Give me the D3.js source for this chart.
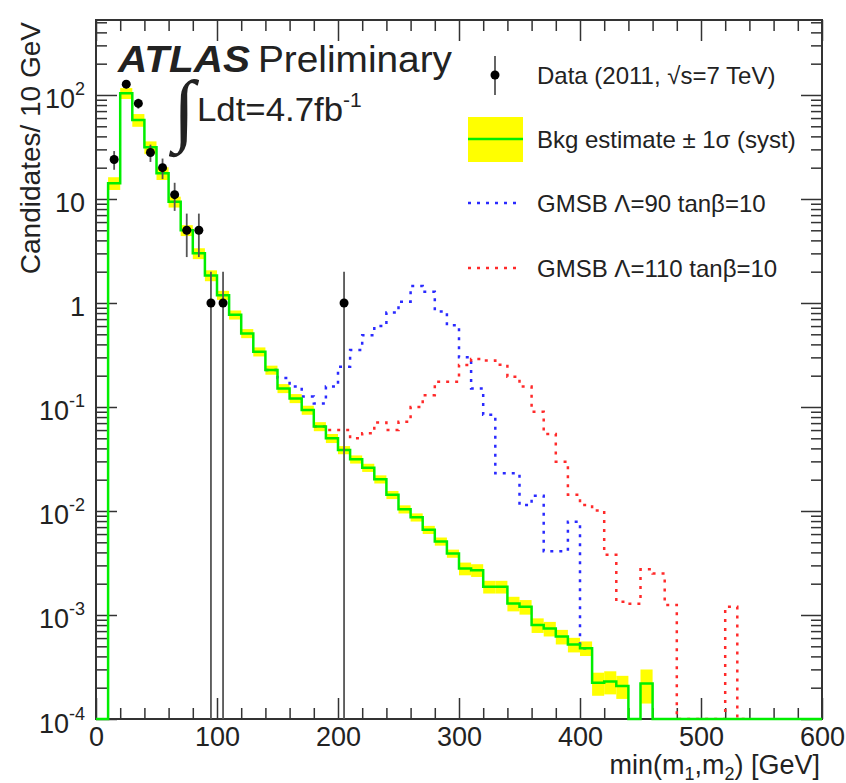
<!DOCTYPE html>
<html><head><meta charset="utf-8">
<script src="https://cdn.jsdelivr.net/npm/d3@7/dist/d3.min.js"></script>
<style>
body{margin:0;background:#fff;}
text{font-family:"Liberation Sans",Arial,Helvetica,sans-serif;fill:#222;}
</style></head><body>
<svg id="c" width="846" height="783"></svg>
<script>
// ---------------- data ----------------
const binWidth = 10;                       // GeV
const binLow = d3.range(0, 600, binWidth); // lower bin edges 0..590
// background estimate (per 10 GeV bin, 0..590)
const bkg = [
  0, 14.2, 104, 57.5, 31.4, 17.7, 9.4, 5.0, 3.0, 1.84,
  1.19, 0.77, 0.51, 0.34, 0.227, 0.151, 0.121, 0.0935, 0.065, 0.050,
  0.0386, 0.0314, 0.0261, 0.0202, 0.0143, 0.0104, 0.0087, 0.0066, 0.0051, 0.0039,
  0.0028, 0.0027, 0.00187, 0.00187, 0.00129, 0.00120, 0.00080, 0.00074, 0.00062, 0.00052,
  0.00048, 0.000223, 0.00023, 0.000208, 0, 0.00022, 0, 0, 0, 0,
  0, 0, 0, 0, 0, 0, 0, 0, 0, 0
];
// relative systematic uncertainty of background
const bkgErr = [
  0, .14, .12, .14, .14, .14, .12, .12, .12, .12,
  .10, .10, .10, .10, .10, .10, .10, .10, .10, .10,
  .09, .09, .09, .09, .09, .09, .09, .09, .09, .09,
  .14, .14, .14, .14, .16, .16, .16, .16, .16, .16,
  .16, .25, .25, .25, 0, .36, 0, 0, 0, 0,
  0, 0, 0, 0, 0, 0, 0, 0, 0, 0
];
// GMSB Lambda=90 tanb=10, bins starting at 140 GeV
const gmsb90Start = 140;
const gmsb90 = [0.227, 0.19, 0.157, 0.126, 0.108, 0.157, 0.244, 0.353, 0.49, 0.60,
  0.81, 1.03, 1.46, 1.28, 0.83, 0.61, 0.30, 0.151, 0.084, 0.023,
  0.023, 0.0114, 0.014, 0.0041, 0.0041, 0.0079, 0.00048];
// GMSB Lambda=110 tanb=10, bins starting at 180 GeV
const gmsb110Start = 180;
const gmsb110 = [0.065, 0.060, 0.060, 0.050, 0.056, 0.071, 0.060, 0.072, 0.10, 0.13,
  0.175, 0.175, 0.254, 0.29, 0.28, 0.255, 0.195, 0.157, 0.090, 0.055,
  0.0298, 0.0143, 0.0114, 0.0101, 0.0038, 0.00134, 0.00128, 0.00275, 0.0025, 0.00125,
  0, 0, 0, 0, 0.0012, 0];
// data (2011)
const dataCenters = [15, 25, 35, 45, 55, 65, 75, 85, 95, 105, 205];
const dataCounts  = [24, 127, 83, 28, 20, 11, 5, 5, 1, 1, 1];
// axis ticks
const xMajor = [0, 100, 200, 300, 400, 500, 600];
const yMajor = [1e-4, 1e-3, 1e-2, 1e-1, 1, 10, 100];
const legendLabels = ["Data (2011, \u221As=7 TeV)", "Bkg estimate \u00B1 1\u03C3 (syst)",
  "GMSB \u039B=90 tan\u03B2=10", "GMSB \u039B=110 tan\u03B2=10"];

// ---------------- layout ----------------
const L = 96, R = 822, T = 20, B = 719;
const yMax = 526;
const svg = d3.select("#c");
const x = d3.scaleLinear().domain([0, 600]).range([L, R]);
const y = d3.scaleLog().domain([1e-4, yMax]).range([B, T]);
const yv = v => y(Math.max(v, 1e-4));

svg.append("defs").append("clipPath").attr("id", "clip")
  .append("rect").attr("x", L).attr("y", T).attr("width", R - L).attr("height", B - T);

// minor tick values
const xMinor = d3.range(20, 600, 20).filter(v => v % 100 !== 0);
const yMinor = [];
for (let k = -4; k <= 2; k++) for (let m = 2; m <= 9; m++) { const v = m * Math.pow(10, k); if (v < yMax) yMinor.push(v); }

function styleAxis(g) {
  g.select(".domain").remove();
  g.selectAll(".tick line").attr("stroke", "#333").attr("stroke-width", 1.5);
}
// bottom
svg.append("g").attr("transform", `translate(0,${B})`)
  .call(d3.axisBottom(x).tickValues(xMinor).tickSize(-11).tickFormat("")).call(styleAxis);
const xAx = svg.append("g").attr("transform", `translate(0,${B})`)
  .call(d3.axisBottom(x).tickValues(xMajor).tickSize(-21).tickPadding(8).tickFormat(d3.format("d"))).call(styleAxis);
xAx.selectAll(".tick text").attr("font-size", 27).attr("fill", "#222").attr("font-family", "Liberation Sans, Arial, sans-serif");
// top
svg.append("g").attr("transform", `translate(0,${T})`)
  .call(d3.axisTop(x).tickValues(xMinor).tickSize(-11).tickFormat("")).call(styleAxis);
svg.append("g").attr("transform", `translate(0,${T})`)
  .call(d3.axisTop(x).tickValues(xMajor).tickSize(-21).tickFormat("")).call(styleAxis);
// left
svg.append("g").attr("transform", `translate(${L},0)`)
  .call(d3.axisLeft(y).tickValues(yMinor).tickSize(-11).tickFormat("")).call(styleAxis);
const yAx = svg.append("g").attr("transform", `translate(${L},0)`)
  .call(d3.axisLeft(y).tickValues(yMajor).tickSize(-21).tickPadding(11).tickFormat("")).call(styleAxis);
yAx.selectAll(".tick text").each(function (d) {
  const t = d3.select(this).attr("dy", null).attr("y", 13).attr("font-size", 27)
    .attr("font-family", "Liberation Sans, Arial, sans-serif").attr("fill", "#222");
  const e = Math.round(Math.log10(d));
  if (e === 0) t.text("1");
  else if (e === 1) t.text("10");
  else {
    t.text("10");
    t.append("tspan").attr("font-size", 18).attr("dy", -13).text(String(e));
  }
});
// right
svg.append("g").attr("transform", `translate(${R},0)`)
  .call(d3.axisRight(y).tickValues(yMinor).tickSize(-11).tickFormat("")).call(styleAxis);
svg.append("g").attr("transform", `translate(${R},0)`)
  .call(d3.axisRight(y).tickValues(yMajor).tickSize(-21).tickFormat("")).call(styleAxis);

// ---------------- histograms ----------------
const plot = svg.append("g").attr("clip-path", "url(#clip)");
function stepPoints(start, vals) {
  const pts = [];
  vals.forEach((v, i) => { const lo = start + i * binWidth; pts.push([lo, v], [lo + binWidth, v]); });
  return pts;
}
const line = d3.line().x(d => x(d[0])).y(d => yv(d[1]));

// yellow band
plot.append("g").selectAll("rect")
  .data(binLow.map((lo, i) => ({ lo, v: bkg[i], e: bkgErr[i] })).filter(d => d.v > 0 && d.e > 0))
  .join("rect")
  .attr("x", d => x(d.lo)).attr("width", d => x(d.lo + binWidth) - x(d.lo))
  .attr("y", d => yv(d.v * (1 + d.e))).attr("height", d => yv(d.v * (1 - d.e)) - yv(d.v * (1 + d.e)))
  .attr("fill", "#ffff00");

// signals
plot.append("path").attr("d", line(stepPoints(gmsb90Start, gmsb90)))
  .attr("fill", "none").attr("stroke", "#2a2aff").attr("stroke-width", 2.5).attr("stroke-dasharray", "3,6");
plot.append("path").attr("d", line(stepPoints(gmsb110Start, gmsb110)))
  .attr("fill", "none").attr("stroke", "#ff2a2a").attr("stroke-width", 2.5).attr("stroke-dasharray", "3,6");

// frame
svg.append("rect").attr("x", L).attr("y", T).attr("width", R - L).attr("height", B - T)
  .attr("fill", "none").attr("stroke", "#333").attr("stroke-width", 2);

// background line
svg.append("path").attr("d", line(stepPoints(0, bkg)))
  .attr("fill", "none").attr("stroke", "#00ee00").attr("stroke-width", 2.5);

// data
const dg = svg.append("g");
const dat = dataCenters.map((c, i) => ({ c, n: dataCounts[i] }));
dg.selectAll("line").data(dat).join("line")
  .attr("x1", d => x(d.c)).attr("x2", d => x(d.c))
  .attr("y1", d => yv(d.n + Math.sqrt(d.n))).attr("y2", d => yv(d.n - Math.sqrt(d.n)))
  .attr("stroke", "#555").attr("stroke-width", 1.8);
dg.selectAll("circle").data(dat).join("circle")
  .attr("cx", d => x(d.c)).attr("cy", d => yv(d.n)).attr("r", 4.5).attr("fill", "#000");

// ---------------- texts ----------------
svg.append("text").attr("transform", "translate(40,22) rotate(-90)").attr("text-anchor", "end")
  .attr("font-size", 28).text("Candidates/ 10 GeV");
const xt = svg.append("text").attr("x", 820).attr("y", 774).attr("text-anchor", "end").attr("font-size", 27);
xt.append("tspan").text("min(m");
xt.append("tspan").attr("font-size", 18).attr("dy", 6).text("1");
xt.append("tspan").attr("dy", -6).text(",m");
xt.append("tspan").attr("font-size", 18).attr("dy", 6).text("2");
xt.append("tspan").attr("dy", -6).text(") [GeV]");

svg.append("text").attr("x", 118).attr("y", 72).attr("font-size", 37)
  .attr("textLength", 132).attr("lengthAdjust", "spacingAndGlyphs")
  .attr("font-weight", "bold").attr("font-style", "italic").attr("fill", "#111").text("ATLAS");
svg.append("text").attr("x", 258).attr("y", 72).attr("font-size", 37)
  .attr("textLength", 194).attr("lengthAdjust", "spacingAndGlyphs").text("Preliminary");
// luminosity label: integral sign + text in one element
const lum = svg.append("text").attr("x", 173).attr("y", 121).attr("font-size", 33);
lum.append("tspan").attr("font-family", "Liberation Serif, serif").attr("font-size", 80)
  .attr("dy", 15).text("\u222B");
lum.append("tspan").attr("x", 197).attr("dy", -15)
  .attr("textLength", 146).attr("lengthAdjust", "spacingAndGlyphs").text("Ldt=4.7fb");
lum.append("tspan").attr("font-size", 21).attr("dy", -14).text("-1");

// legend
const rows = [75, 139, 203, 268];
const lg = svg.append("g");
lg.selectAll("text").data(legendLabels).join("text")
  .attr("x", 537).attr("y", (d, i) => rows[i] + 8.5).attr("font-size", 24).text(d => d);
lg.append("line").attr("x1", 495).attr("x2", 495).attr("y1", 56).attr("y2", 95).attr("stroke", "#555").attr("stroke-width", 1.8);
lg.append("circle").attr("cx", 495).attr("cy", 75).attr("r", 4.5).attr("fill", "#000");
lg.append("rect").attr("x", 468).attr("y", 117).attr("width", 55).attr("height", 45).attr("fill", "#ffff00");
lg.append("line").attr("x1", 468).attr("x2", 523).attr("y1", 139).attr("y2", 139).attr("stroke", "#00ee00").attr("stroke-width", 2.5);
lg.append("line").attr("x1", 468).attr("x2", 522).attr("y1", 203).attr("y2", 203).attr("stroke", "#2a2aff").attr("stroke-width", 2.5).attr("stroke-dasharray", "3,6");
lg.append("line").attr("x1", 468).attr("x2", 522).attr("y1", 268).attr("y2", 268).attr("stroke", "#ff2a2a").attr("stroke-width", 2.5).attr("stroke-dasharray", "3,6");
</script>
</body></html>
